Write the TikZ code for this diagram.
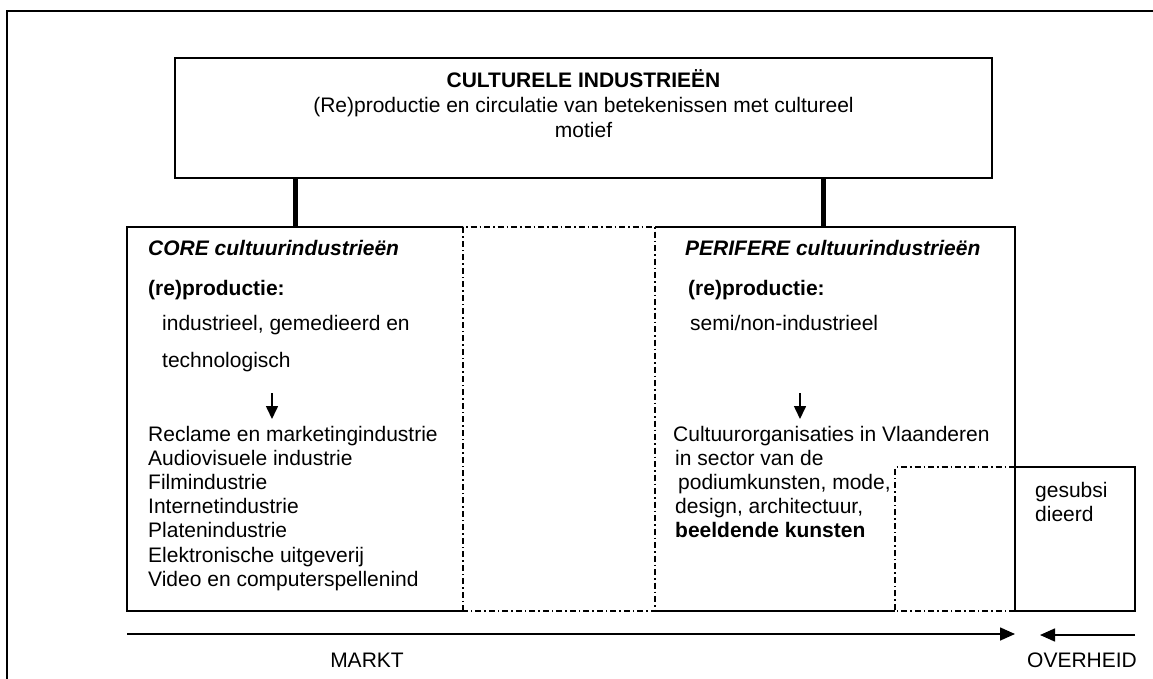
\documentclass[tikz,border=0pt]{standalone}
\usepackage{fontspec}
\setmainfont{Liberation Sans}
\usetikzlibrary{arrows.meta}
\begin{document}
\begin{tikzpicture}[x=1pt,y=-1pt,
  box/.style={draw, line width=1.6pt, inner sep=0pt, outer sep=0pt},
  area/.style={inner sep=0pt, outer sep=0pt},
  solid line/.style={line width=1.6pt},
  dashdot/.style={line width=1.4pt, dash pattern=on 6pt off 3pt on 1.5pt off 3pt},
  txt/.style={inner sep=0pt, anchor=base west, font=\fontsize{21}{25}\selectfont},
  ctxt/.style={inner sep=0pt, anchor=base, font=\fontsize{21}{25}\selectfont},
  link/.style={line width=5pt},
  flow/.style={line width=1.6pt, -{Triangle[length=15pt,width=13pt]}},
  down/.style={line width=1.6pt, -{Triangle[length=13pt,width=12pt]}}
]
\useasboundingbox (0,0) rectangle (1153,679);
\clip (0,0) rectangle (1153,679);

% outer frame
\draw[line width=2.6pt] (7,700) -- (7,11) -- (1170,11);

% header box
\node[box, minimum width=817pt, minimum height=120pt] (top) at (583.5,118) {};
\node[ctxt] (title) at (583.5,88) {\bfseries CULTURELE INDUSTRIEËN};
\node[ctxt] (sub1) at (583.5,113) {(Re)productie en circulatie van betekenissen met cultureel};
\node[ctxt] (sub2) at (583.5,138) {motief};

% regions of the lower block
\node[area, minimum width=336pt, minimum height=384pt] (core) at (295,419) {};
\node[area, minimum width=192pt, minimum height=384pt] (mid) at (559,419) {};
\node[area, minimum width=360pt, minimum height=384pt] (peri) at (835,419) {};
\node[area, minimum width=120pt, minimum height=144pt] (gap) at (955,539) {};
\node[box, minimum width=120pt, minimum height=144pt] (subs) at (1075,539) {};

\draw[solid line] (core.north east) -- (core.north west) -- (core.south west) -- (core.south east);
\draw[dashdot] (mid.south west) rectangle (mid.north east);
\draw[solid line] (peri.north west) -- (peri.north east) -- (peri.south east);
\draw[solid line] (peri.south west) -- (gap.south west);
\draw[dashdot] (gap.south east) -- (gap.south west) -- (gap.north west) -- (gap.north east);

% links from the header
\draw[link] (top.south -| core.north) -- (core.north);
\draw[link] ([xshift=-12pt]peri.north |- top.south) -- ([xshift=-12pt]peri.north);

% core column
\node[txt] (coreT) at (148,255) {\bfseries\itshape CORE cultuurindustrieën};
\node[txt] (coreP) at (148,295) {\bfseries (re)productie:};
\node[txt] (coreA) at (162,330) {industrieel, gemedieerd en};
\node[txt] (coreB) at (162,367) {technologisch};
\coordinate (coreS) at (272,393);
\coordinate (coreE) at (272,419);
\draw[down] (coreS) -- (coreE);
\foreach \t [count=\i from 0] in {Reclame en marketingindustrie, Audiovisuele industrie,
  Filmindustrie, Internetindustrie, Platenindustrie, Elektronische uitgeverij,
  Video en computerspellenind}
  \node[txt] (core-\i) at (148,441+24.2*\i) {\t};

% periphery column
\node[txt] (periT) at (685,255) {\bfseries\itshape PERIFERE cultuurindustrieën};
\node[txt] (periP) at (688,295) {\bfseries (re)productie:};
\node[txt] (periA) at (690,330) {semi/non-industrieel};
\coordinate (periS) at (800,393);
\coordinate (periE) at (800,419);
\draw[down] (periS) -- (periE);
\node[txt] (peri-0) at (673,441) {Cultuurorganisaties in Vlaanderen};
\node[txt] (peri-1) at (675,465.2) {in sector van de};
\node[txt] (peri-2) at (678,489.4) {podiumkunsten, mode,};
\node[txt] (peri-3) at (675,513.6) {design, architectuur,};
\node[txt] (peri-4) at (675,537.8) {\bfseries beeldende kunsten};

% subsidised part
\node[txt] (subsA) at (1035,497) {gesubsi};
\node[txt] (subsB) at (1035,521) {dieerd};

% market and government
\coordinate (mL) at (127,634);
\coordinate (mR) at (1015,634);
\draw[flow] (mL) -- (mR);
\coordinate (oR) at (1135,635);
\coordinate (oL) at (1040,635);
\draw[flow] (oR) -- (oL);
\node[ctxt] (markt) at (367,667) {MARKT};
\node[ctxt] (overheid) at (1082,667) {OVERHEID};
\end{tikzpicture}
\end{document}
